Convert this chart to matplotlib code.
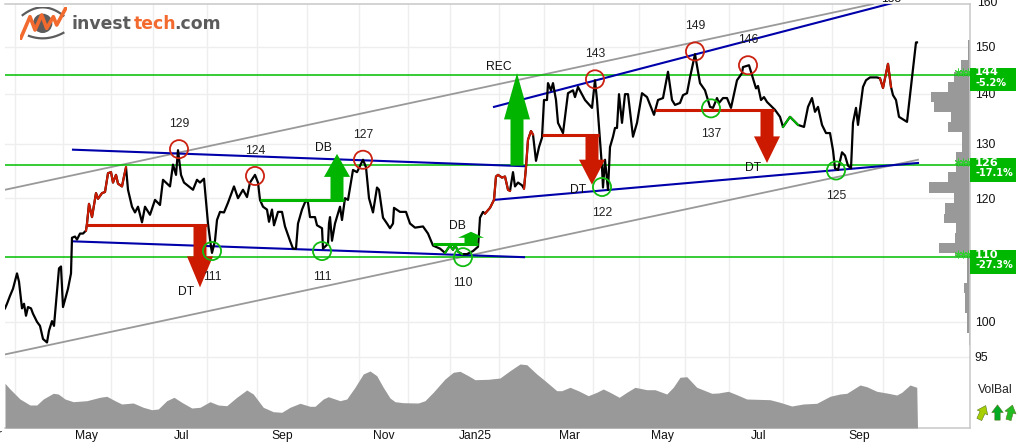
import matplotlib
matplotlib.use('Agg')
import matplotlib.pyplot as plt
from matplotlib.markers import MarkerStyle
from matplotlib.patches import Circle, Rectangle
from matplotlib.ticker import NullFormatter, NullLocator
from matplotlib.transforms import Affine2D, IdentityTransform
import numpy as np

plt.rcParams['font.family'] = ['Liberation Sans', 'DejaVu Sans']

# closing prices by session number
days = [0, 0.8, 2, 3.2, 4.8, 5.6, 6.8, 7.6, 8.4, 9.2, 10.4, 11.2, 12.8, 14, 15.2, 16.8, 17.6, 18.8, 19.6, 20.8,
        21.6, 22.4, 23.2, 24.4, 25.2, 26.4, 26.8, 28, 28.8, 30, 31.2, 32.4, 32.8, 33.6, 34.8, 36.4, 37.2, 38.8, 40, 41.2,
        42.4, 43.2, 44.4, 45.2, 46.8, 47.6, 48.4, 49.2, 50.8, 52, 53.2, 54.8, 56, 58, 60, 62, 63.2, 66, 67.2, 68.4,
        69.2, 70.4, 71.6, 75.2, 76.8, 78, 79.6, 81.2, 82.4, 82.8, 84, 84.8, 86, 87.6, 89.2, 91.6, 93.2, 95.2, 96.8, 98,
        100, 101.2, 102, 103.2, 104.8, 105.6, 106.8, 107.6, 109.2, 110.8, 112, 114, 115.2, 116.4, 117.2, 118.8, 120.4, 121.2, 122, 124,
        124.8, 126.8, 127.2, 129.2, 129.6, 130, 130.8, 132, 134, 134.8, 136, 137.2, 139.2, 140.8, 143.2, 144.4, 145.6, 147.2, 148.8, 149.6,
        151.2, 152.8, 154, 155.2, 155.6, 158, 160.4, 162, 164, 167.2, 169.2, 171.2, 174, 176, 178, 179.2, 180, 181.2, 182.8, 184.8,
        187.2, 189.2, 189.6, 190, 191.2, 192, 194, 195.6, 196.4, 197.2, 198.8, 200, 201.2, 202, 203.2, 204, 205.2, 206.8, 207.6, 208.4,
        209.2, 210.4, 211.2, 212.4, 213.6, 214.8, 215.6, 216.8, 217.2, 218.4, 219.2, 220.4, 221.2, 223.2, 225.2, 227.2, 228, 229.2, 232, 234.8,
        236, 236.8, 238.8, 239.2, 240, 241.2, 242, 243.2, 244, 244.8, 245.6, 246.8, 248, 249.2, 251.2, 252.8, 254.8, 256.8, 259.6, 261.2,
        263.2, 265.2, 266.8, 268, 270, 271.2, 272.8, 274, 276, 278, 280, 282, 283.2, 284.8, 285.6, 287.2, 288.8, 290.4, 292.8, 294.8,
        295.2, 297.6, 299.2, 300.4, 301.2, 302.4, 303.6, 304.8, 308, 310, 311.2, 314, 316, 317.2, 319.6, 321.2, 322.8, 324, 325.2, 326.8,
        328.4, 330, 331.2, 332, 333.2, 334.8, 336, 337.2, 338.4, 339.2, 340.4, 341.2, 343.2, 344.4, 346, 348.8, 350, 351.2, 353.2, 354.4,
        355.2, 356.4, 357.6, 360.8, 362.8, 364.4, 364.8]
prices = [102.0, 102.7, 103.9, 105.0, 107.4, 106.1, 102.0, 102.7, 100.9, 102.2, 102.0, 101.2, 100.0, 99.4, 97.5, 97.0, 98.7, 100.1, 99.4, 104.5,
          108.2, 108.5, 102.2, 103.9, 105.0, 107.4, 113.2, 113.4, 112.9, 113.9, 113.9, 114.4, 115.6, 119.0, 116.7, 120.9, 119.9, 120.9, 121.1, 124.5,
          124.7, 122.8, 124.2, 122.6, 122.1, 123.9, 125.6, 121.5, 118.5, 117.5, 118.5, 115.8, 118.5, 117.1, 119.7, 118.8, 123.3, 122.1, 126.1, 124.2,
          128.8, 124.2, 122.8, 121.5, 123.3, 122.8, 123.5, 115.6, 111.7, 110.7, 112.7, 116.2, 117.6, 117.5, 119.2, 122.1, 120.0, 121.5, 120.2, 122.8,
          124.2, 122.8, 119.7, 118.5, 118.0, 115.9, 118.0, 115.3, 117.6, 117.6, 115.1, 112.7, 111.4, 111.4, 115.6, 118.0, 119.7, 119.2, 116.7, 116.7,
          115.3, 114.8, 111.4, 112.2, 115.6, 116.7, 112.7, 115.6, 118.5, 116.2, 120.0, 119.7, 125.1, 124.7, 127.0, 125.6, 120.0, 117.5, 121.9, 121.5,
          116.6, 115.6, 114.8, 115.6, 118.3, 117.6, 117.6, 115.6, 114.9, 115.1, 113.9, 111.9, 111.4, 110.7, 111.9, 111.2, 112.1, 110.9, 110.5, 110.5,
          111.0, 111.7, 113.9, 116.6, 117.6, 117.3, 118.3, 119.7, 123.9, 124.2, 123.7, 123.9, 121.5, 121.3, 124.7, 122.1, 122.8, 122.3, 121.7, 125.6,
          130.8, 132.5, 131.8, 126.8, 129.4, 131.2, 138.7, 138.7, 142.2, 140.7, 142.2, 138.7, 134.1, 132.1, 140.1, 140.7, 139.3, 141.4, 138.7, 137.1,
          142.8, 138.7, 125.6, 121.9, 127.0, 121.5, 129.4, 131.4, 133.1, 133.1, 139.9, 134.1, 139.9, 139.9, 131.4, 134.1, 140.1, 139.3, 135.7, 138.7,
          139.1, 144.6, 138.7, 137.7, 138.1, 139.7, 140.1, 143.4, 148.4, 142.2, 140.7, 137.3, 137.1, 139.1, 138.1, 139.1, 139.1, 137.1, 142.8, 144.3,
          145.6, 146.0, 143.2, 141.1, 141.6, 138.7, 139.3, 138.3, 136.7, 135.3, 133.3, 135.3, 134.3, 133.7, 133.3, 137.3, 139.1, 136.3, 137.3, 133.7,
          132.1, 132.1, 128.8, 125.4, 125.1, 128.4, 127.8, 125.9, 125.4, 134.1, 137.1, 133.7, 141.4, 142.8, 143.4, 143.4, 143.2, 141.2, 146.3, 141.4,
          139.7, 138.7, 135.3, 134.3, 143.4, 151.0, 151.0]

red_spans = [(32.4, 48.4), (192, 202), (207.6, 211.2), (350, 354.4)]
green_spans = [(176, 182.8), (311.2, 317.2)]

vol_days = [0, 2, 6, 10, 12.7, 15.3, 19.3, 21.3, 24, 27.3, 32.7, 38, 40.7, 44, 46.7, 51.3, 55.3, 58.7, 61.3, 64.7,
            67.6, 70.7, 74.7, 78, 82, 85.3, 88.7, 92.7, 96.7, 99.3, 103.3, 107.3, 110.7, 114, 118, 122, 124, 127.3, 129.3, 134,
            136.7, 140, 143.3, 146, 148.7, 151.3, 154, 156, 159.3, 165.3, 168, 171.3, 176, 179.3, 182, 185.3, 188, 193.3, 198, 202,
            206, 208.7, 212.7, 216, 220.7, 222.7, 226, 229.3, 233.3, 236.7, 239.3, 242, 245.7, 248.7, 252, 256.7, 260, 264.7, 267.3, 270,
            272.7, 276.7, 282.7, 285.3, 289.3, 292.7, 296.7, 306, 310, 314.7, 319.3, 324.7, 330, 334, 336.7, 342, 344.7, 348.7, 352.7, 356.7,
            358.7, 362, 364.7, 365]
vol_balance = [44.7, 39, 29, 23, 23, 29, 34.7, 34, 29, 26.3, 27.3, 30.7, 31.7, 27.3, 24, 25, 20.7, 18.3, 19, 27.3,
               30.7, 25.7, 20, 20.7, 26.3, 23, 22.3, 30.7, 38, 34, 20.7, 16.3, 15.7, 20.7, 24.7, 21.7, 21.7, 29, 31.3, 27.3,
               29, 40.7, 54, 57, 52.3, 40.7, 30, 26.3, 25.3, 25, 27.3, 35.7, 49, 55.7, 56.7, 52.3, 48.3, 48.7, 50, 57.3,
               64, 63.3, 54, 47.3, 37.3, 37.3, 40.7, 37.3, 32.3, 35.7, 39, 35.7, 30.7, 35.7, 40.7, 38.3, 38.3, 34, 40.7, 50.7,
               51.3, 40.7, 34.7, 35, 36.7, 33.3, 29, 28.3, 25.7, 22, 24, 24.7, 31.7, 34, 34.7, 43, 41.3, 36.7, 35, 33,
               35.7, 43, 40.7, 0]

# turnover by price band, drawn leftwards from the right edge
band_edges = [151.5, 147.1, 144.5, 142.4, 140.3, 138.3, 136.3, 134.3, 132.3, 128.4, 124.7, 122.9, 121.0, 119.2, 117.3, 115.7,
              114.0, 112.4, 110.6, 110.0, 105.9, 104.3, 101.3, 98.4, 96.7]
band_volume = [0.8, 3.6, 6.4, 8.8, 15.6, 14.4, 7.6, 8.8, 3.2, 5.6, 8.8, 16.4, 6.4, 10, 10.4, 5.6, 6, 12.4, 6, 1.2, 2.4, 2, 1.2, 0.4]

levels = [144, 126, 110]
level_pct = ['-5.2%', '-17.1%', '-27.3%']

# (start day, start price, end day, end price)
grey_lines = [(0, 121.5, 347.2, 159.8), (0, 95.3, 365.2, 127.0)]
blue_lines = [(27.2, 128.9, 207.6, 125.8), (27.2, 112.6, 207.6, 110.0),
              (195.6, 137.3, 358, 160.5), (195.6, 119.7, 365.2, 126.4)]

top_days = [69.6, 100, 143.2, 236, 276, 297.2]
top_prices = [129, 124, 127, 143, 149, 146]
bottom_days = [82.8, 126.8, 183.2, 238.8, 282.4, 332.4]
bottom_prices = [111, 111, 110, 122, 137, 125]

signal_names = ['DT', 'DB', 'DB', 'REC', 'DT', 'DT']
signal_days = [78, 132.8, 186.4, 204.8, 234.8, 304.8]
signal_from = [115.3, 119.7, 112.2, 125.9, 131.8, 136.7]
signal_to = [105.2, 128.1, 114.2, 144.3, 122.4, 126.4]
neck_start = [32.8, 102, 171.2, None, 214.8, 260]

price_ticks = [95, 100, 120, 130, 140, 150]
month_starts = [3.9, 23.1, 42.4, 59.2, 80.7, 100.8, 120.7, 141.6, 161.1, 177.9, 197.5, 215.6, 235.2, 253.6, 272, 289.6, 311.2,
                330.7, 351]
month_days = [32.8, 70.8, 110.8, 151.6, 188, 225.6, 262.8, 301.6, 341.6]
month_labels = ['May', 'Jul', 'Sep', 'Nov', 'Jan25', 'Mar', 'May', 'Jul', 'Sep']

RED = '#cc1a00'
GREEN = '#00b400'
LINE_GREEN = '#00bf00'
BLUE = '#0000aa'
GREY = '#999999'
FRAME = '#c8c8c8'
ORANGE = '#f26a2e'
LOGO_GREY = '#5c5c5c'
XMAX = 386

fig = plt.figure(figsize=(10.2, 4.48), dpi=100)
ax = fig.add_axes([5 / 1020, 20 / 448, 965 / 1020, 424 / 448])
ax.set_yscale('log')
ax.set_xlim(0, XMAX)
ax.set_ylim(85.5, 159.8)

ax.set_yticks(price_ticks, [str(p) for p in price_ticks])
ax.yaxis.set_minor_locator(NullLocator())
ax.yaxis.set_minor_formatter(NullFormatter())
ax.yaxis.tick_right()
ax.set_xticks(month_days, month_labels)
ax.set_xticks(month_starts, minor=True)
ax.tick_params(axis='both', which='both', length=0, labelsize=8.7, colors='#111111')
ax.tick_params(axis='y', pad=3.5)
ax.tick_params(axis='x', pad=1.5)
ax.set_axisbelow(True)
ax.grid(which='major', axis='y', color='#eeeeee', lw=1)
ax.grid(which='minor', axis='x', color='#eeeeee', lw=1)
ax.grid(which='major', axis='x', visible=False)
ax.spines['left'].set_visible(False)
for side in ['top', 'right', 'bottom']:
    ax.spines[side].set_color(FRAME)
    ax.spines[side].set_linewidth(1.1)

fig.text(987 / 1020, 1 - 3 / 448, '160', ha='center', va='center', fontsize=8.7, color='#111111')
fig.text(2 / 1020, 1 - 435 / 448, 'Mar', ha='right', va='center', fontsize=8.7, color='#111111')
fig.text(891 / 1020, 1 - 2 / 448, '155', ha='center', va='baseline', fontsize=8.7, color='#111111')

# turnover profile
edges = np.array(band_edges)
ax.barh(edges[1:], band_volume, height=edges[:-1] - edges[1:], left=XMAX - np.array(band_volume),
        align='edge', color=GREY, lw=0, zorder=2)

for x0, y0, x1, y1 in grey_lines:
    ax.plot([x0, x1], [y0, y1], color=GREY, lw=1.3, zorder=3)

for level in levels:
    ax.axhline(level, color=LINE_GREEN, lw=1.1, zorder=3)
    ax.scatter([381.2, 383.2, 385.2], [level * 1.004] * 3, marker=(6, 2, 0), s=26, color='#33cc33', lw=0.7,
               zorder=4, clip_on=False)

for x0, y0, x1, y1 in blue_lines:
    ax.plot([x0, x1], [y0, y1], color=BLUE, lw=1.5, zorder=3)

# price line, with the coloured stretches drawn over it
days_arr = np.array(days)
prices_arr = np.array(prices)
ax.plot(days_arr, prices_arr, color='black', lw=1.6, zorder=5)
for spans, colour in [(red_spans, RED), (green_spans, GREEN)]:
    for start, end in spans:
        keep = (days_arr >= start) & (days_arr <= end)
        ax.plot(days_arr[keep], prices_arr[keep], color=colour, lw=1.5, zorder=6)

# breakout arrows
for name, day, start, end, neck in zip(signal_names, signal_days, signal_from, signal_to, neck_start):
    colour = RED if end < start else GREEN
    head = np.sqrt(start * end)
    ax.fill([day - 2.6, day + 2.6, day + 2.6, day + 5.2, day, day - 5.2, day - 2.6],
            [start, start, head, head, end, head, head], color=colour, lw=0, zorder=7)
    if neck is not None:
        ax.plot([neck, day + 2.6], [start, start], color=colour, lw=2.2, solid_capstyle='butt', zorder=7)
    dx = -13 if name == 'REC' else -10
    dy = 4.3 if end > start else -3.6
    ax.annotate(name, (day, end), xytext=(dx, dy), textcoords='offset points', ha='center', va='center',
                fontsize=8.7, color='#111111', zorder=9)

# tops and bottoms
ax.scatter(top_days, top_prices, s=170, facecolors='none', edgecolors='#cc2211', lw=1.3, zorder=8)
ax.scatter(bottom_days, bottom_prices, s=170, facecolors='none', edgecolors='#11bb11', lw=1.3, zorder=8)
for x, y in zip(top_days, top_prices):
    ax.annotate(str(y), (x, y), xytext=(0, 18), textcoords='offset points', ha='center', va='center',
                fontsize=8.7, color='#222222', zorder=9)
for x, y in zip(bottom_days, bottom_prices):
    ax.annotate(str(y), (x, y), xytext=(0, -18.5), textcoords='offset points', ha='center', va='center',
                fontsize=8.7, color='#222222', zorder=9)

# volume balance strip along the bottom
vol_ax = fig.add_axes([5 / 1020, 20 / 448, 965 / 1020, 68 / 448], zorder=1)
vol_ax.patch.set_alpha(0)
vol_ax.axis('off')
vol_ax.set_xlim(0, XMAX)
vol_ax.set_ylim(0, 68)
vol_ax.fill_between(vol_days, 0, vol_balance, color=GREY, lw=0)

# level boxes on the right
fig.canvas.draw()
for level, pct in zip(levels, level_pct):
    x0, y0 = ax.transData.transform((XMAX, level))
    fig.add_artist(Rectangle((x0, y0 - 16.5), 46, 23.5, transform=IdentityTransform(), color='#00b800', lw=0, zorder=2))
    fig.text(x0 + 5, y0 + 2.5, str(level), transform=IdentityTransform(), family='DejaVu Sans', weight='bold',
             fontsize=8.2, color='white', va='center', ha='left', zorder=3)
    fig.text(x0 + 6, y0 - 8, pct, transform=IdentityTransform(), family='DejaVu Sans', weight='bold',
             fontsize=7, color='white', va='center', ha='left', zorder=3)

# VolBal arrows
arrow_verts = [(-0.35, -1), (0.35, -1), (0.35, 0), (0.75, 0), (0, 1), (-0.75, 0), (-0.35, 0), (-0.35, -1)]
fig.text(995 / 1020, 1 - 390 / 448, 'VolBal', ha='center', va='center', fontsize=8.7, color='#222222')
for x, tilt, colour in [(982.5, -25, '#a8d000'), (997, 0, '#00aa22'), (1010, -15, '#22bb22')]:
    marker = MarkerStyle(arrow_verts, transform=Affine2D().rotate_deg(tilt))
    ax.plot([(x - 5) / 965], [(428 - 412) / 424], transform=ax.transAxes, marker=marker, ms=11, color=colour,
            mec='#557722', mew=0.4, clip_on=False, zorder=10)

# logo
logo_ax = fig.add_axes([20 / 1020, 1 - 40 / 448, 46.7 / 1020, 33.3 / 448], zorder=3)
logo_ax.axis('off')
logo_ax.set_xlim(60, 200)
logo_ax.set_ylim(120, 20)
logo_ax.add_patch(Circle((128, 70), 29, color=LOGO_GREY, lw=0))
arc_x = np.linspace(68, 190, 40)
logo_ax.plot(arc_x, 22 + 24 * ((arc_x - 128) / 61) ** 2, color=LOGO_GREY, lw=1.6)
logo_ax.plot(arc_x[6:], 115 - 16 * ((arc_x[6:] - 128) / 61) ** 2, color=LOGO_GREY, lw=1.6)
logo_ax.plot([62, 90, 105, 125, 140, 160, 170, 197], [115, 50, 90, 45, 85, 50, 75, 25], color=ORANGE, lw=2.6)

for x, word, colour in [(72, 'invest', LOGO_GREY), (133.5, 'tech', ORANGE), (174, '.com', LOGO_GREY)]:
    fig.text(x / 1020, 1 - 24 / 448, word, family='DejaVu Sans', weight='bold', fontsize=12.4, color=colour,
             ha='left', va='center', zorder=5)

fig.savefig('out.png', dpi=100)
